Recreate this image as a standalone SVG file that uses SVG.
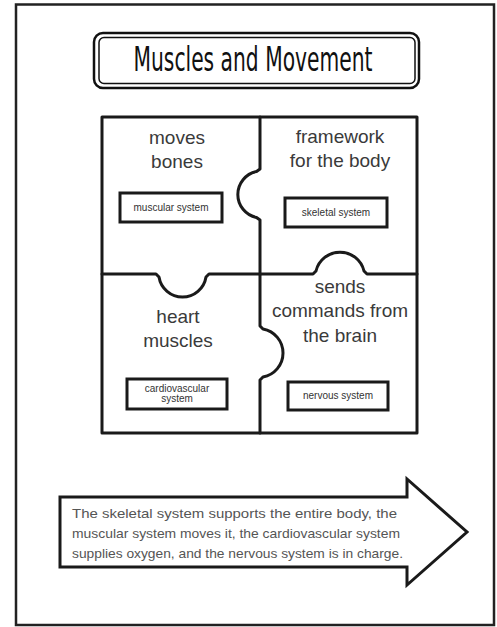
<svg xmlns="http://www.w3.org/2000/svg" width="497" height="627" viewBox="0 0 497 627">
  <style>
    .frame { fill: #fff; stroke: #222; stroke-width: 2.5; }
    .line { fill: none; stroke: #1a1a1a; stroke-width: 3; stroke-linejoin: round; stroke-linecap: round; }
    .label { fill: #fff; stroke: #1a1a1a; stroke-width: 3; }
    .big { font-family: "Liberation Sans", Arial, sans-serif; font-size: 19px; fill: #3a3a3a; text-anchor: middle; }
    .small { font-family: "Liberation Sans", Arial, sans-serif; font-size: 10px; fill: #333; text-anchor: middle; }
    .note { font-family: "Liberation Sans", Arial, sans-serif; font-size: 13px; fill: #555; }
    .title { font-family: "DejaVu Sans Condensed", "DejaVu Sans", sans-serif; font-size: 33px; fill: #111; text-anchor: middle; }
  </style>

  <rect x="0" y="0" width="497" height="627" fill="#fff"/>
  <!-- page border -->
  <rect class="frame" x="16" y="4.5" width="478" height="620.5"/>

  <!-- title banner -->
  <g id="title">
    <rect x="94" y="33" width="325" height="55" rx="9" fill="#fff" stroke="#111" stroke-width="2.5"/>
    <rect x="99" y="37.5" width="316" height="46" rx="5" fill="none" stroke="#111" stroke-width="1.5"/>
    <text class="title" x="253" y="71" textLength="239" lengthAdjust="spacingAndGlyphs">Muscles and Movement</text>
  </g>

  <!-- puzzle outline: outer edge and the interlocking seams -->
  <g id="connectors">
    <rect class="line" x="102" y="117" width="315" height="316"/>
    <path class="line" d="M260,117 V169 L256.5,171.5 A23.5 23.5 0 0 0 256.5,217.5 L260,220 V274"/>
    <path class="line" d="M260,274 V326 L263,329 A24.4 24.4 0 0 1 263,377 L260,380 V433"/>
    <path class="line" d="M102,274 H156 L159,277 A23.8 23.8 0 0 0 206,277 L209,274 H260"/>
    <path class="line" d="M260,274 H313 L316,271 A24.7 24.7 0 0 1 364,271 L367,274 H417"/>
  </g>

  <g id="muscular">
    <text class="big" x="177" y="144">moves</text>
    <text class="big" x="177" y="168">bones</text>
    <rect class="label" x="120" y="193" width="102" height="29"/>
    <text class="small" x="171" y="211">muscular system</text>
  </g>

  <g id="skeletal">
    <text class="big" x="340" y="143">framework</text>
    <text class="big" x="340" y="167">for the body</text>
    <rect class="label" x="285" y="198" width="102" height="29"/>
    <text class="small" x="336" y="216">skeletal system</text>
  </g>

  <g id="cardiovascular">
    <text class="big" x="178" y="323">heart</text>
    <text class="big" x="178" y="347">muscles</text>
    <rect class="label" x="127" y="379" width="100" height="30"/>
    <text class="small" x="177" y="392">cardiovascular</text>
    <text class="small" x="177" y="402">system</text>
  </g>

  <g id="nervous">
    <text class="big" x="340" y="293">sends</text>
    <text class="big" x="340" y="317">commands from</text>
    <text class="big" x="340" y="342">the brain</text>
    <rect class="label" x="288" y="382" width="100" height="28"/>
    <text class="small" x="338" y="399">nervous system</text>
  </g>

  <!-- summary arrow -->
  <g id="summary">
    <path d="M60,497 H407 V479 L467,532 L407,585 V567 H60 Z" fill="#fff" stroke="#1a1a1a" stroke-width="3" stroke-linejoin="miter"/>
    <text class="note" x="72" y="518" textLength="325" lengthAdjust="spacingAndGlyphs">The skeletal system supports the entire body, the</text>
    <text class="note" x="72" y="538" textLength="328" lengthAdjust="spacingAndGlyphs">muscular system moves it, the cardiovascular system</text>
    <text class="note" x="72" y="558" textLength="331" lengthAdjust="spacingAndGlyphs">supplies oxygen, and the nervous system is in charge.</text>
  </g>
</svg>
